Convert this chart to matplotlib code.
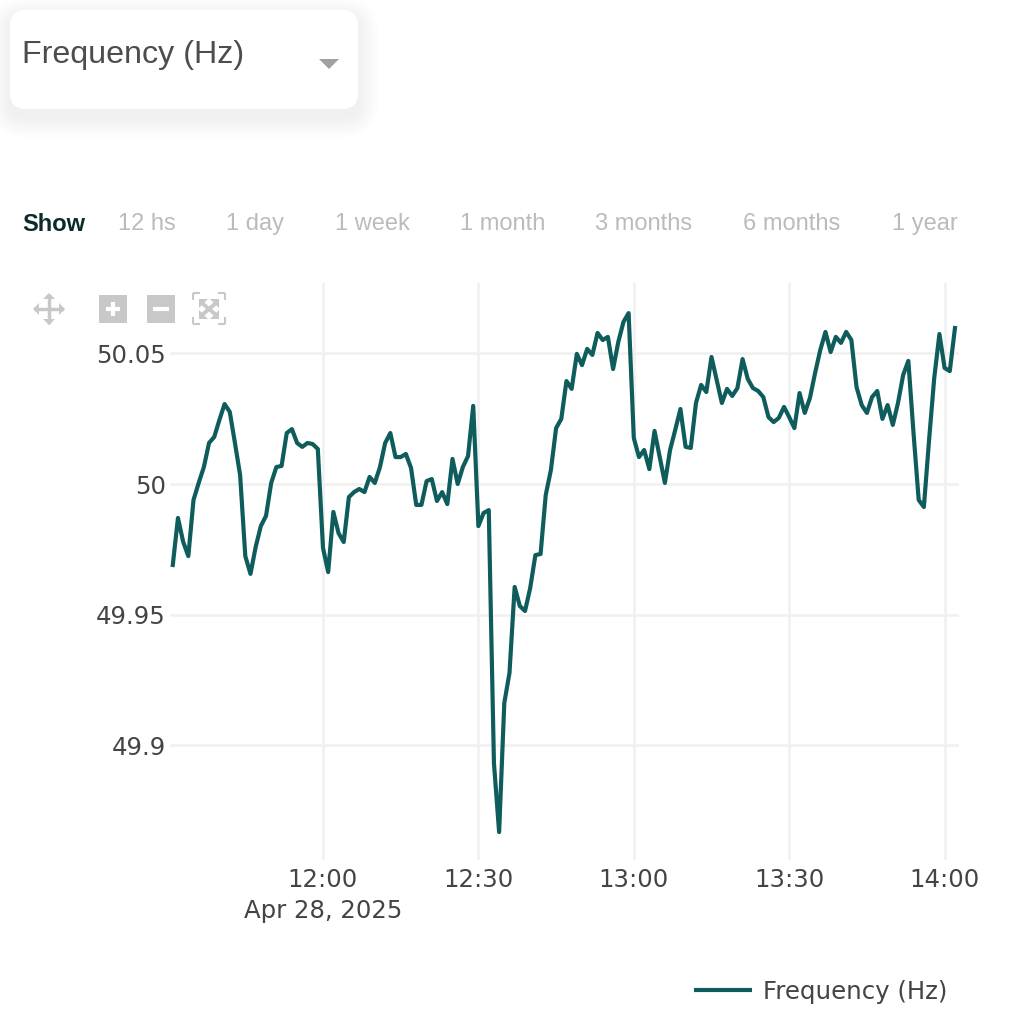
import numpy as np
import pandas as pd
import matplotlib
matplotlib.use("Agg")
import matplotlib.pyplot as plt
import matplotlib.dates as mdates
from matplotlib.patches import FancyBboxPatch, Rectangle, Polygon

W, H = 1021, 1019

series_name = "Frequency (Hz)"
start_time = "2025-04-28 11:31"

# one reading per minute
freq = [
    49.9690, 49.9870, 49.9779, 49.9724, 49.9939, 50.0004, 50.0065, 50.0157, 50.0180, 50.0245,
    50.0306, 50.0276, 50.0157, 50.0034, 49.9724, 49.9656, 49.9759, 49.9839, 49.9878, 50.0004,
    50.0065, 50.0069, 50.0195, 50.0210, 50.0157, 50.0142, 50.0157, 50.0153, 50.0134, 49.9755,
    49.9663, 49.9893, 49.9812, 49.9778, 49.9950, 49.9969, 49.9981, 49.9969, 50.0027, 50.0004,
    50.0065, 50.0157, 50.0195, 50.0103, 50.0103, 50.0115, 50.0061, 49.9920, 49.9920, 50.0011,
    50.0019, 49.9935, 49.9969, 49.9923, 50.0096, 50.0000, 50.0065, 50.0107, 50.0299, 49.9839,
    49.9889, 49.9900, 49.8932, 49.8668, 49.9162, 49.9277, 49.9606, 49.9533, 49.9514, 49.9602,
    49.9728, 49.9732, 49.9958, 50.0054, 50.0214, 50.0249, 50.0394, 50.0364, 50.0498, 50.0455,
    50.0517, 50.0494, 50.0578, 50.0551, 50.0563, 50.0440, 50.0543, 50.0620, 50.0654, 50.0176,
    50.0103, 50.0130, 50.0057, 50.0203, 50.0103, 50.0004, 50.0130, 50.0207, 50.0287, 50.0142,
    50.0138, 50.0310, 50.0379, 50.0352, 50.0486, 50.0398, 50.0310, 50.0364, 50.0337, 50.0367,
    50.0478, 50.0402, 50.0367, 50.0356, 50.0333, 50.0256, 50.0237, 50.0253, 50.0295, 50.0256,
    50.0214, 50.0348, 50.0272, 50.0329, 50.0425, 50.0513, 50.0582, 50.0505, 50.0563, 50.0540,
    50.0582, 50.0551, 50.0371, 50.0302, 50.0272, 50.0333, 50.0356, 50.0249, 50.0302, 50.0226,
    50.0310, 50.0417, 50.0471, 50.0195, 49.9939, 49.9912, 50.0168, 50.0406, 50.0574, 50.0444,
    50.0432, 50.0597,
]
y_ticks = [49.9, 49.95, 50, 50.05]
y_labels = ["49.9", "49.95", "50", "50.05"]
x_ticks = ["2025-04-28 12:00", "2025-04-28 12:30", "2025-04-28 13:00",
           "2025-04-28 13:30", "2025-04-28 14:00"]
x_labels = ["12:00\nApr 28, 2025", "12:30", "13:00", "13:30", "14:00"]
ranges = ["12 hs", "1 day", "1 week", "1 month", "3 months", "6 months", "1 year"]
range_x = [118, 226, 335, 460, 595, 743, 892]

LINE = "#0f5c5c"
GRID = "#f0f0f0"
TICK = "#444444"
SANS = ["Liberation Sans", "DejaVu Sans"]

times = pd.date_range(start_time, periods=len(freq), freq="min")

fig = plt.figure(figsize=(W / 100, H / 100), dpi=100)

# plot area in picture pixels
left, right, top, bottom = 170, 959, 283, 860
ax = fig.add_axes([left / W, 1 - bottom / H, (right - left) / W, (bottom - top) / H])
ax.plot(times, freq, color=LINE, lw=3, solid_joinstyle="round", zorder=3, label=series_name)

noon = pd.Timestamp("2025-04-28 12:00")
ax.set_xlim(noon + pd.Timedelta(minutes=(left - 323) / 5.18),
            noon + pd.Timedelta(minutes=(right - 323) / 5.18))
ax.set_ylim(50 + (484 - bottom) / 2613, 50 + (484 - top) / 2613)

ax.set_xticks(mdates.date2num(pd.to_datetime(x_ticks)))
ax.set_xticklabels(x_labels, linespacing=1.36)
ax.set_yticks(y_ticks)
ax.set_yticklabels(y_labels)
ax.tick_params(length=0, labelsize=17.6, labelcolor=TICK, pad=3)
ax.tick_params(axis="x", pad=6)
ax.grid(True, color=GRID, lw=1.8)
ax.set_axisbelow(True)
for s in ax.spines.values():
    s.set_visible(False)

# everything outside the plot, drawn in pixel coordinates
ui = fig.add_axes([0, 0, 1, 1], zorder=5)
ui.set_xlim(0, W)
ui.set_ylim(H, 0)
ui.axis("off")
ui.patch.set_alpha(0)

# dropdown with soft shadow
for grow in np.arange(30, 0, -2):
    ui.add_patch(FancyBboxPatch((10 - grow * 0.7, 10 + 8 - grow * 0.7), 348 + grow * 1.4, 99 + grow * 1.4,
                                boxstyle="round,pad=0,rounding_size=%d" % (16 + grow * 0.7),
                                fc="black", ec="none", alpha=0.0045))
ui.add_patch(FancyBboxPatch((10, 10), 348, 99, boxstyle="round,pad=0,rounding_size=16", fc="white", ec="none"))
ui.text(22, 55, series_name, family=SANS, fontsize=23.2, color="#4d4d4d", va="center", ha="left")
ui.add_patch(Polygon([(319, 59), (339, 59), (329, 69)], fc="#a0a0a0", ec="none"))

# range selector row
ui.text(22, 224, "Show", family=SANS, fontsize=17, fontweight="bold", color="#0b2a2a", va="center")
for label, x in zip(ranges, range_x):
    ui.text(x, 224, label, family=SANS, fontsize=17, color="#bbbbbb", va="center")

# modebar icons
ICON = "#c8c8c8"
cx, cy = 49, 309
ui.plot([cx - 13, cx + 13], [cy, cy], color=ICON, lw=2.5)
ui.plot([cx, cx], [cy - 13, cy + 13], color=ICON, lw=2.5)
for dx, dy in [(-1, 0), (1, 0), (0, -1), (0, 1)]:
    tip = (cx + dx * 16, cy + dy * 16)
    a = (cx + dx * 10 + dy * 6, cy + dy * 10 + dx * 6)
    b = (cx + dx * 10 - dy * 6, cy + dy * 10 - dx * 6)
    ui.add_patch(Polygon([tip, a, b], fc=ICON, ec="none"))
ui.add_patch(Rectangle((99, 295), 28, 28, fc=ICON, ec="none"))
ui.plot([106, 120], [309, 309], color="white", lw=3, solid_capstyle="butt")
ui.plot([113, 113], [302, 316], color="white", lw=3, solid_capstyle="butt")
ui.add_patch(Rectangle((147, 295), 28, 28, fc=ICON, ec="none"))
ui.plot([153, 169], [309, 309], color="white", lw=3, solid_capstyle="butt")
for sx, sy in [(193, 293), (225, 293), (193, 324), (225, 324)]:
    ex = sx + (7 if sx < 209 else -7)
    ey = sy + (7 if sy < 309 else -7)
    ui.plot([sx, ex], [sy, sy], color=ICON, lw=1.5, solid_capstyle="butt")
    ui.plot([sx, sx], [sy, ey], color=ICON, lw=1.5, solid_capstyle="butt")
ui.plot([202, 216], [303, 315], color=ICON, lw=2.8)
ui.plot([202, 216], [315, 303], color=ICON, lw=2.8)
for sx, sy in [(199, 299), (219, 299), (199, 319), (219, 319)]:
    ex = sx + (9 if sx < 209 else -9)
    ey = sy + (9 if sy < 309 else -9)
    ui.add_patch(Polygon([(sx, sy), (ex, sy), (sx, ey)], fc=ICON, ec="none"))

# legend
ui.plot([694, 752], [990, 990], color=LINE, lw=3, solid_capstyle="butt")
ui.text(763, 992, series_name, fontsize=17.6, color=TICK, va="center")

fig.savefig("out.png", dpi=100)
